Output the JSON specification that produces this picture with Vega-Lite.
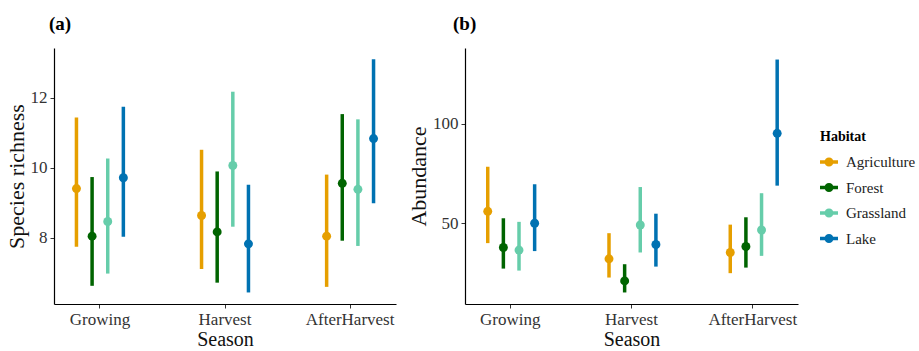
{
  "$schema": "https://vega.github.io/schema/vega-lite/v6.json",
  "padding": {"left": 5, "top": 15, "right": 0, "bottom": 0},
  "background": "white",
  "config": {
    "font": "Liberation Serif",
    "view": {"stroke": null},
    "axis": {
      "grid": false,
      "domainColor": "#000000",
      "domainWidth": 1.2,
      "tickColor": "#333333",
      "tickSize": 4,
      "labelFont": "Liberation Serif",
      "labelFontSize": 17,
      "labelColor": "#333333",
      "labelPadding": 3,
      "titleFont": "Liberation Serif",
      "titleFontSize": 20,
      "titleFontWeight": "normal",
      "titleColor": "#111111"
    },
    "axisY": {"titleFontSize": 22, "titlePadding": 2},
    "title": {"font": "Liberation Serif", "fontSize": 19, "fontWeight": "bold", "anchor": "start", "color": "#000000", "frame": "group"},
    "legend": {"titleFont": "Liberation Serif", "labelFont": "Liberation Serif"}
  },
  "data": {
    "values": [
      {"season": "Growing", "habitat": "Agriculture", "rich": 9.40, "rich_lo": 7.74, "rich_hi": 11.43, "abun": 56.0, "abun_lo": 40.0, "abun_hi": 78.4},
      {"season": "Growing", "habitat": "Forest", "rich": 8.04, "rich_lo": 6.62, "rich_hi": 9.73, "abun": 37.8, "abun_lo": 27.2, "abun_hi": 52.5},
      {"season": "Growing", "habitat": "Grassland", "rich": 8.46, "rich_lo": 6.97, "rich_hi": 10.26, "abun": 36.5, "abun_lo": 26.2, "abun_hi": 50.7},
      {"season": "Growing", "habitat": "Lake", "rich": 9.71, "rich_lo": 8.02, "rich_hi": 11.74, "abun": 50.0, "abun_lo": 36.0, "abun_hi": 69.6},
      {"season": "Harvest", "habitat": "Agriculture", "rich": 8.63, "rich_lo": 7.10, "rich_hi": 10.51, "abun": 32.1, "abun_lo": 22.7, "abun_hi": 45.0},
      {"season": "Harvest", "habitat": "Forest", "rich": 8.16, "rich_lo": 6.71, "rich_hi": 9.89, "abun": 21.0, "abun_lo": 15.2, "abun_hi": 29.4},
      {"season": "Harvest", "habitat": "Grassland", "rich": 10.06, "rich_lo": 8.31, "rich_hi": 12.17, "abun": 49.1, "abun_lo": 35.3, "abun_hi": 68.2},
      {"season": "Harvest", "habitat": "Lake", "rich": 7.82, "rich_lo": 6.43, "rich_hi": 9.51, "abun": 39.3, "abun_lo": 28.2, "abun_hi": 54.8},
      {"season": "AfterHarvest", "habitat": "Agriculture", "rich": 8.04, "rich_lo": 6.59, "rich_hi": 9.80, "abun": 35.3, "abun_lo": 24.9, "abun_hi": 49.3},
      {"season": "AfterHarvest", "habitat": "Forest", "rich": 9.55, "rich_lo": 7.91, "rich_hi": 11.53, "abun": 38.3, "abun_lo": 27.7, "abun_hi": 53.0},
      {"season": "AfterHarvest", "habitat": "Grassland", "rich": 9.38, "rich_lo": 7.76, "rich_hi": 11.38, "abun": 46.6, "abun_lo": 33.6, "abun_hi": 65.1},
      {"season": "AfterHarvest", "habitat": "Lake", "rich": 10.83, "rich_lo": 8.98, "rich_hi": 13.10, "abun": 95.2, "abun_lo": 68.9, "abun_hi": 132.3}
    ]
  },
  "spacing": 11,
  "hconcat": [
    {
      "width": 342,
      "height": 256,
      "title": {"text": "(a)", "dx": -5, "offset": 14},
      "encoding": {
        "x": {"field": "season", "type": "nominal", "sort": ["Growing", "Harvest", "AfterHarvest"],
              "scale": {"paddingInner": 0.5, "paddingOuter": 0.117},
              "axis": {"labelAngle": 0, "title": "Season", "titlePadding": 2}},
        "xOffset": {"field": "habitat", "type": "nominal", "scale": {"paddingInner": 0, "paddingOuter": 0}},
        "color": {"field": "habitat", "type": "nominal",
                  "scale": {"domain": ["Agriculture", "Forest", "Grassland", "Lake"], "range": ["#E69F00", "#006400", "#66CDAA", "#0072B2"]},
                  "legend": {"orient": "none", "legendX": 766, "legendY": 82, "title": "Habitat",
                             "titleFont": "Liberation Serif", "labelFont": "Liberation Serif",
                             "titleFontSize": 14, "titleFontWeight": "bold", "titleColor": "#000000", "titlePadding": 9,
                             "labelFontSize": 15, "labelColor": "#222222", "labelOffset": 8,
                             "symbolType": "M-1,-0.19L1,-0.19L1,0.19L-1,0.19Z M-0.5,0 A0.5,0.5 0 1 1 0.5,0 A0.5,0.5 0 1 1 -0.5,0 Z",
                             "symbolSize": 324, "symbolStrokeWidth": 0, "symbolOpacity": 1, "rowPadding": 8.5,
                             "encode": {"labels": {"update": {"font": {"value": "Liberation Serif"}, "fontSize": {"value": 15}}}}}}
      },
      "layer": [
        {"mark": {"type": "rule", "strokeWidth": 3.5},
         "encoding": {
           "y": {"field": "rich_lo", "type": "quantitative", "title": "Species richness",
                 "scale": {"domain": [6.1, 13.42], "nice": false, "zero": false},
                 "axis": {"values": [8, 10, 12]}},
           "y2": {"field": "rich_hi"}
         }},
        {"mark": {"type": "point", "filled": true, "opacity": 1, "size": 80},
         "encoding": {"y": {"field": "rich", "type": "quantitative", "title": "Species richness"}}}
      ]
    },
    {
      "width": 333,
      "height": 256,
      "title": {"text": "(b)", "dx": -12, "offset": 14},
      "encoding": {
        "x": {"field": "season", "type": "nominal", "sort": ["Growing", "Harvest", "AfterHarvest"],
              "scale": {"paddingInner": 0.5, "paddingOuter": 0.123},
              "axis": {"labelAngle": 0, "title": "Season", "titlePadding": 2}},
        "xOffset": {"field": "habitat", "type": "nominal", "scale": {"paddingInner": 0, "paddingOuter": 0}},
        "color": {"field": "habitat", "type": "nominal"}
      },
      "layer": [
        {"mark": {"type": "rule", "strokeWidth": 3.5},
         "encoding": {
           "y": {"field": "abun_lo", "type": "quantitative", "title": "Abundance",
                 "scale": {"domain": [9.4, 138.1], "nice": false, "zero": false},
                 "axis": {"values": [50, 100]}},
           "y2": {"field": "abun_hi"}
         }},
        {"mark": {"type": "point", "filled": true, "opacity": 1, "size": 80},
         "encoding": {"y": {"field": "abun", "type": "quantitative", "title": "Abundance"}}}
      ]
    }
  ]
}
